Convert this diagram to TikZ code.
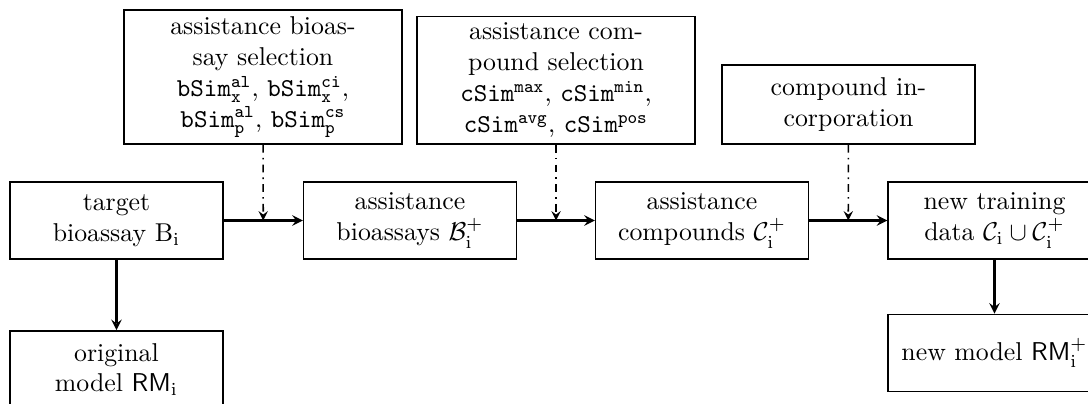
\documentclass[tikz,border=0pt]{standalone}
\usepackage{amsmath}
\usepackage{amssymb}
\usetikzlibrary{shapes,arrows,positioning,calc}

\begin{document}
\begin{tikzpicture}[>=stealth]
  \tikzstyle{block}=[rectangle, draw, semithick, minimum width=2.9cm, minimum height=1.05cm, align=center, inner sep=2pt]
  \tikzstyle{select}=[rectangle, draw, semithick, minimum width=3.79cm, inner ysep=2.5pt, anchor=south, align=center]
  \tikzstyle{flow}=[->, thick]
  \tikzstyle{assist}=[->, semithick, dashdotted]

  \clip (0,0) rectangle (14.823,-5.504);
  \useasboundingbox (0,0) rectangle (14.823,-5.504);

  % Hauptkette
  \node[block] (target) at (1.587,-3.004) {target\\bioassay $\mathrm{B}_\mathrm{i}$};
  \node[block] (bioassays) at (5.586,-3.004) {assistance\\bioassays $\mathcal{B}_\mathrm{i}^+$};
  \node[block] (compounds) at (9.564,-3.004) {assistance\\compounds $\mathcal{C}_\mathrm{i}^+$};
  \node[block] (training) at (13.549,-3.004) {new training\\data $\mathcal{C}_\mathrm{i}\cup\mathcal{C}_\mathrm{i}^+$};

  % Modelle
  \node[block] (origmodel) at (1.587,-5.034) {original\\model $\mathsf{RM}_\mathrm{i}$};
  \node[block] (newmodel) at (13.549,-4.809) {new model $\mathsf{RM}_\mathrm{i}^+$};

  % Auswahlschritte
  \node[select] (bsel) at (3.583,-1.975) {assistance bioas-\\say selection\\
    $\mathtt{bSim}_\mathtt{x}^\mathtt{al}$, $\mathtt{bSim}_\mathtt{x}^\mathtt{ci}$,\\
    $\mathtt{bSim}_\mathtt{p}^\mathtt{al}$, $\mathtt{bSim}_\mathtt{p}^\mathtt{cs}$};
  \node[select] (csel) at (7.575,-1.975) {assistance com-\\pound selection\\
    $\mathtt{cSim}^\mathtt{max}$, $\mathtt{cSim}^\mathtt{min}$,\\
    $\mathtt{cSim}^\mathtt{avg}$, $\mathtt{cSim}^\mathtt{pos}$};
  \node[select, minimum width=3.45cm, minimum height=1.08cm] (incorp) at (11.560,-1.975) {compound in-\\corporation};

  % Verbindungen
  \draw[flow] (target) -- coordinate (m1) (bioassays);
  \draw[flow] (bioassays) -- coordinate (m2) (compounds);
  \draw[flow] (compounds) -- coordinate (m3) (training);
  \draw[flow] (target) -- (origmodel);
  \draw[flow] (training) -- (newmodel);

  \draw[assist] (bsel) -- (m1);
  \draw[assist] (csel) -- (m2);
  \draw[assist] (incorp) -- (m3);
\end{tikzpicture}
\end{document}
